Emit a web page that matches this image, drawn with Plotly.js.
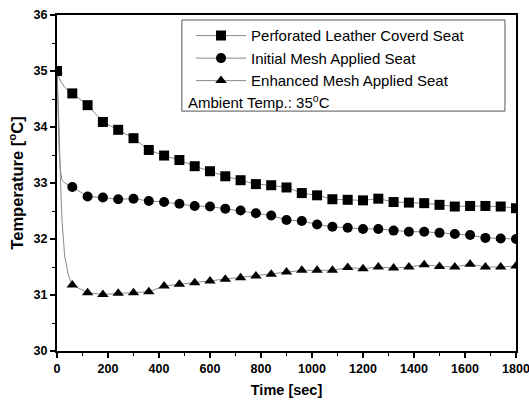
<!DOCTYPE html>
<html>
<head>
<meta charset="utf-8">
<script src="https://cdn.plot.ly/plotly-3.0.1.min.js"></script>
<style>html,body{margin:0;padding:0;background:#fff;}#chart{width:529px;height:402px;}</style>
</head>
<body>
<div id="chart"></div>
<script>
// Sampled marker times (sec)
const times = [0,60,120,180,240,300,360,420,480,540,600,660,720,780,840,900,960,1020,1080,1140,1200,1260,1320,1380,1440,1500,1560,1620,1680,1740,1800];
const leatherSeat = [35.0,34.6,34.39,34.09,33.95,33.8,33.59,33.49,33.41,33.3,33.21,33.12,33.05,32.98,32.96,32.92,32.82,32.78,32.71,32.7,32.69,32.72,32.66,32.65,32.64,32.61,32.58,32.59,32.59,32.58,32.55];
const initialMeshSeat = [35.0,32.93,32.76,32.74,32.71,32.72,32.68,32.66,32.63,32.59,32.58,32.54,32.51,32.46,32.42,32.34,32.32,32.26,32.22,32.2,32.18,32.18,32.15,32.13,32.13,32.11,32.09,32.07,32.02,32.01,32.0];
const enhancedMeshSeat = [35.0,31.18,31.04,31.01,31.03,31.04,31.06,31.16,31.19,31.22,31.25,31.28,31.31,31.34,31.37,31.41,31.44,31.44,31.44,31.49,31.47,31.5,31.48,31.5,31.54,31.51,31.5,31.55,31.5,31.5,31.52];

// Early part of the continuous curves (first minute)
const earlyTime = [0,4,8,14,20,30,45,60];
const leatherEarly = [35.0,34.93,34.88,34.82,34.77,34.71,34.65,34.6];
const initialEarly = [35.0,34.2,33.6,33.2,33.05,33.0,32.96,32.93];
const enhancedEarly = [35.0,34.6,34.0,33.0,32.3,31.7,31.35,31.18];

const seriesNames = ['Perforated Leather Coverd Seat','Initial Mesh Applied Seat','Enhanced Mesh Applied Seat'];
const ambientNote = 'Ambient Temp.: 35<sup>o</sup>C';
const xTicks = [0,200,400,600,800,1000,1200,1400,1600,1800];

const lineColor = '#8a8a8a';
const symbols = ['square','circle','triangle-up'];
const sizes = [10,10,10];
const mainData = [leatherSeat, initialMeshSeat, enhancedMeshSeat];
const earlyData = [leatherEarly, initialEarly, enhancedEarly];

const traces = [];
for (let i = 0; i < 3; i++) {
  traces.push({
    x: earlyTime, y: earlyData[i], mode: 'lines', type: 'scatter',
    line: {color: lineColor, width: 1}, showlegend: false, hoverinfo: 'skip'
  });
}
for (let i = 0; i < 3; i++) {
  const xs = [times[0], null].concat(times.slice(1));
  const ys = [mainData[i][0], null].concat(mainData[i].slice(1));
  traces.push({
    x: xs, y: ys, mode: 'lines+markers', type: 'scatter', name: seriesNames[i],
    connectgaps: false,
    line: {color: lineColor, width: 1},
    marker: {symbol: symbols[i], size: sizes[i], color: '#000'}
  });
}

const fam = 'Liberation Sans, Arial, sans-serif';
const layout = {
  width: 529, height: 402,
  margin: {l: 57, r: 13, t: 15, b: 51},
  paper_bgcolor: '#fff', plot_bgcolor: '#fff',
  font: {family: fam, color: '#000'},
  showlegend: true,
  legend: {
    x: 0.292, y: 0.987, xanchor: 'left', yanchor: 'top',
    bgcolor: 'rgba(0,0,0,0)', borderwidth: 0,
    itemwidth: 50,
    font: {size: 15, family: fam},
    tracegroupgap: 0
  },
  xaxis: {
    range: [0, 1800], tickvals: xTicks, ticklabeloverflow: 'allow',
    ticks: 'outside', ticklen: 5, tickwidth: 1.5, tickcolor: '#000',
    minor: {dtick: 100, ticks: 'outside', ticklen: 3, tickwidth: 1, tickcolor: '#000'},
    showgrid: false, zeroline: false,
    showline: true, linecolor: '#000', linewidth: 2, mirror: true,
    tickfont: {size: 12.5, family: fam, weight: 700},
    title: {text: '<b>Time [sec]</b>', font: {size: 14.5, family: fam}, standoff: 10}
  },
  yaxis: {
    range: [30, 36], dtick: 1,
    ticks: 'outside', ticklen: 5, tickwidth: 1.5, tickcolor: '#000',
    minor: {dtick: 0.5, ticks: 'outside', ticklen: 3, tickwidth: 1, tickcolor: '#000'},
    showgrid: false, zeroline: false,
    showline: true, linecolor: '#000', linewidth: 2, mirror: true,
    tickfont: {size: 12.5, family: fam, weight: 700},
    title: {text: '<b>Temperature [<sup>o</sup>C]</b>', font: {size: 16.5, family: fam}, standoff: 6}
  },
  shapes: [{
    type: 'rect', xref: 'paper', yref: 'paper',
    x0: 0.272, x1: 0.976, y0: 0.714, y1: 0.985,
    line: {color: '#555', width: 1}, fillcolor: 'rgba(0,0,0,0)'
  }],
  annotations: [{
    xref: 'paper', yref: 'paper', x: 0.281, y: 0.744, xanchor: 'left', yanchor: 'middle',
    text: ambientNote, showarrow: false,
    font: {size: 15, family: fam}
  }]
};

Plotly.newPlot('chart', traces, layout, {displayModeBar: false, staticPlot: true});
</script>
</body>
</html>
